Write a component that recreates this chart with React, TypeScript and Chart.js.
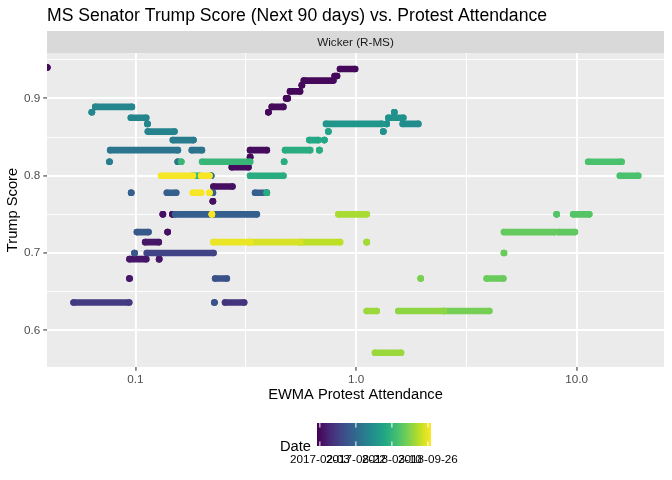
import React, { useEffect, useRef } from "react";
import { Chart, registerables } from "chart.js";

Chart.register(...registerables);

const TITLE = "MS Senator Trump Score (Next 90 days) vs. Protest Attendance";
const FACET_LABEL = "Wicker (R-MS)";
const X_TITLE = "EWMA Protest Attendance";
const Y_TITLE = "Trump Score";
const LEGEND_TITLE = "Date";

const X_MAJOR = [0.1, 1, 10];
const X_MAJOR_LABELS = ["0.1", "1.0", "10.0"];
const X_MINOR = [0.3162, 3.162];
const Y_MAJOR = [0.6, 0.7, 0.8, 0.9];
const Y_MAJOR_LABELS = ["0.6", "0.7", "0.8", "0.9"];
const Y_MINOR = [0.65, 0.75, 0.85, 0.95];
const X_LIMITS = [0.0397, 24.9];
const Y_LIMITS = [0.5525, 0.9587];

const DATE_LIMITS = ["2017-01-18", "2018-10-13"];
const DATE_BREAKS = ["2017-02-03", "2017-08-22", "2018-03-10", "2018-09-26"];

// Each run: a horizontal streak of (densely overlapping) points at one score level
const runStart = [
  0.0398, 0.4005, 0.415, 0.482, 0.502, 0.568, 0.58, 0.8, 0.846,
  0.2257, 0.2243, 0.2734, 0.3309, 0.3309, 0.1331, 0.147, 0.1399, 0.1107, 0.094, 0.128, 0.0939,
  0.0524, 0.2548, 0.228, 0.2297, 0.1126, 0.099, 0.1015, 0.1513, 0.0956, 0.1388, 0.2243, 0.3485,
  0.2203, 0.1801, 0.0768, 0.1556, 0.1477, 0.0762, 0.1138, 0.1133, 0.0953, 0.0657, 0.0634,
  0.7312, 1.329, 1.377, 1.401, 1.491, 1.628,
  0.749, 0.6143, 0.7184, 0.4769, 0.6821, 0.4719, 0.3309, 0.3939, 0.2006, 0.1611, 0.182,
  11.29, 15.71, 9.652, 8.118, 8.254, 4.684, 4.684, 3.91, 1.964, 2.5, 1.555, 1.118, 1.219, 1.118, 0.8313,
  0.5574, 0.3309, 0.2257, 0.222, 0.1307, 0.1985, 0.182, 0.2164,
];
const runEnd = [
  0.0398, 0.4005, 0.468, 0.49, 0.557, 0.568, 0.789, 0.82, 0.99,
  0.2751, 0.2243, 0.3251, 0.3309, 0.3939, 0.1331, 0.147, 0.1399, 0.1275, 0.1118, 0.128, 0.0939,
  0.0936, 0.3108, 0.228, 0.2594, 0.2257, 0.099, 0.1145, 0.3548, 0.0956, 0.1529, 0.2243, 0.3939,
  0.2203, 0.2, 0.1556, 0.1556, 0.1832, 0.0762, 0.1502, 0.1133, 0.1118, 0.0963, 0.0634,
  1.307, 1.329, 1.377, 1.638, 1.491, 1.915,
  0.749, 0.6751, 0.7184, 0.6188, 0.6821, 0.4719, 0.4684, 0.3939, 0.3309, 0.1611, 0.195,
  15.99, 19.02, 11.41, 8.118, 9.824, 7.975, 4.684, 4.65, 1.964, 4.018, 2.5, 1.241, 1.599, 1.118, 1.118,
  0.8462, 0.5574, 0.3309, 0.222, 0.182, 0.2164, 0.1985, 0.2164,
];
const runScore = [
  0.94, 0.882, 0.889, 0.9, 0.909, 0.917, 0.923, 0.929, 0.938,
  0.786, 0.767, 0.811, 0.824, 0.833, 0.75, 0.75, 0.727, 0.714, 0.692, 0.692, 0.667,
  0.636, 0.636, 0.636, 0.667, 0.7, 0.7, 0.727, 0.75, 0.778, 0.778, 0.778, 0.778,
  0.8, 0.833, 0.833, 0.818, 0.846, 0.818, 0.857, 0.867, 0.875, 0.889, 0.882,
  0.867, 0.857, 0.867, 0.875, 0.882, 0.867,
  0.857, 0.846, 0.846, 0.833, 0.833, 0.818, 0.8, 0.778, 0.818, 0.818, 0.8,
  0.818, 0.8, 0.75, 0.75, 0.727, 0.727, 0.7, 0.667, 0.667, 0.625, 0.625, 0.625, 0.571, 0.714, 0.75,
  0.714, 0.714, 0.714, 0.75, 0.8, 0.8, 0.778, 0.778,
];
const runDate = [
  "2017-01-31", "2017-01-31", "2017-01-31", "2017-01-31", "2017-01-31", "2017-01-31", "2017-01-31", "2017-01-31", "2017-01-31",
  "2017-02-12", "2017-02-12", "2017-02-06", "2017-02-06", "2017-02-06", "2017-02-12", "2017-02-12", "2017-02-12", "2017-02-25", "2017-02-25", "2017-02-25", "2017-02-25",
  "2017-05-06", "2017-04-23", "2017-06-25", "2017-06-25", "2017-05-25", "2017-07-14", "2017-07-14", "2017-07-27", "2017-07-27", "2017-07-27", "2017-07-27", "2017-07-27",
  "2017-09-03", "2017-09-16", "2017-09-22", "2017-09-16", "2017-10-05", "2017-10-17", "2017-10-24", "2017-10-30", "2017-10-30", "2017-11-05", "2017-11-05",
  "2017-12-13", "2017-12-01", "2017-12-01", "2017-12-01", "2017-12-01", "2017-11-18",
  "2018-01-20", "2018-02-02", "2018-02-02", "2018-02-14", "2018-02-14", "2018-02-14", "2018-02-14", "2018-02-14", "2018-03-12", "2018-03-12", "2018-03-12",
  "2018-04-12", "2018-04-12", "2018-04-25", "2018-04-25", "2018-05-08", "2018-05-14", "2018-05-20", "2018-05-20", "2018-06-08", "2018-06-02", "2018-06-27", "2018-07-10", "2018-07-10", "2018-07-16", "2018-07-23",
  "2018-08-11", "2018-09-05", "2018-09-24", "2018-10-07", "2018-10-07", "2018-10-07", "2018-10-07", "2018-10-07",
];

const VIRIDIS = [
  "#440154", "#482475", "#414487", "#355F8D", "#2A788E", "#21918C",
  "#22A884", "#44BF70", "#7AD151", "#BDDF26", "#FDE725",
];

const FONT = "'Liberation Sans', Arial, Helvetica, sans-serif";

function hexToRgb(h: string) {
  const n = parseInt(h.slice(1), 16);
  return [(n >> 16) & 255, (n >> 8) & 255, n & 255];
}

function viridis(t: number) {
  const tt = Math.max(0, Math.min(1, t));
  const n = VIRIDIS.length - 1;
  const i = Math.min(Math.floor(tt * n), n - 1);
  const f = tt * n - i;
  const a = hexToRgb(VIRIDIS[i]);
  const b = hexToRgb(VIRIDIS[i + 1]);
  const c = a.map((v, k) => Math.round(v + (b[k] - v) * f));
  return `rgb(${c[0]},${c[1]},${c[2]})`;
}

const dMin = Date.parse(DATE_LIMITS[0]);
const dMax = Date.parse(DATE_LIMITS[1]);
const dateFrac = (d: string) => (Date.parse(d) - dMin) / (dMax - dMin);

const decorPlugin = {
  id: "ggDecor",
  beforeDraw(chart: any) {
    const { ctx, chartArea } = chart;
    const { left, right, top, bottom } = chartArea;
    ctx.save();
    ctx.fillStyle = "#FFFFFF";
    ctx.fillRect(0, 0, chart.width, chart.height);
    // panel
    ctx.fillStyle = "#EBEBEB";
    ctx.fillRect(left, top, right - left, bottom - top);
    // strip
    ctx.fillStyle = "#D9D9D9";
    ctx.fillRect(left, 31, right - left, top - 31);
    ctx.fillStyle = "#1A1A1A";
    ctx.font = `11.7px ${FONT}`;
    ctx.textAlign = "center";
    ctx.textBaseline = "middle";
    ctx.fillText(FACET_LABEL, (left + right) / 2, (31 + top) / 2 + 0.5);
    // title
    ctx.fillStyle = "#000000";
    ctx.font = `17.6px ${FONT}`;
    ctx.textAlign = "left";
    ctx.textBaseline = "alphabetic";
    ctx.fillText(TITLE, left, 21);
    ctx.restore();
  },
  afterDraw(chart: any) {
    const { ctx } = chart;
    const barL = 317, barR = 431, barT = 423, barB = 446;
    ctx.save();
    const g = ctx.createLinearGradient(barL, 0, barR, 0);
    VIRIDIS.forEach((c, i) => g.addColorStop(i / (VIRIDIS.length - 1), c));
    ctx.fillStyle = g;
    ctx.fillRect(barL, barT, barR - barL, barB - barT);
    const tl = (barB - barT) / 5;
    ctx.strokeStyle = "#FFFFFF";
    ctx.lineWidth = 1;
    ctx.fillStyle = "#000000";
    ctx.font = `11.7px ${FONT}`;
    ctx.textAlign = "center";
    ctx.textBaseline = "alphabetic";
    DATE_BREAKS.forEach((d) => {
      const x = barL + dateFrac(d) * (barR - barL);
      ctx.beginPath();
      ctx.moveTo(x, barT);
      ctx.lineTo(x, barT + tl);
      ctx.moveTo(x, barB - tl);
      ctx.lineTo(x, barB);
      ctx.stroke();
      ctx.fillText(d, x, 463);
    });
    ctx.font = `14.7px ${FONT}`;
    ctx.textAlign = "left";
    ctx.fillText(LEGEND_TITLE, 280, 451);
    ctx.restore();
  },
};

export default function App() {
  const ref = useRef<HTMLCanvasElement | null>(null);

  useEffect(() => {
    document.body.style.margin = "0";
    if (!ref.current) return;

    const order = runDate
      .map((_, i) => i)
      .sort((a, b) => Date.parse(runDate[a]) - Date.parse(runDate[b]));

    const datasets = order.map((i, rank) => {
      const c = viridis(dateFrac(runDate[i]));
      return {
        data: [
          { x: runStart[i], y: runScore[i] },
          { x: runEnd[i], y: runScore[i] },
        ],
        showLine: true,
        borderColor: c,
        backgroundColor: c,
        pointBackgroundColor: c,
        pointBorderColor: c,
        borderWidth: 6.6,
        borderCapStyle: "round",
        pointRadius: 3.3,
        pointBorderWidth: 0,
        pointHoverRadius: 3.3,
        clip: 0,
        order: -rank,
      };
    });

    const xTicks = [...X_MAJOR, ...X_MINOR].sort((a, b) => a - b);
    const yTicks = [...Y_MAJOR, ...Y_MINOR].sort((a, b) => a - b);
    const isMajorX = (v: number) => X_MAJOR.some((m) => Math.abs(m - v) < 1e-9);
    const isMajorY = (v: number) => Y_MAJOR.some((m) => Math.abs(m - v) < 1e-9);

    const chart = new Chart(ref.current, {
      type: "scatter",
      data: { datasets: datasets as any },
      plugins: [decorPlugin],
      options: {
        animation: false,
        responsive: false,
        events: [],
        layout: { padding: { top: 53, right: 8, bottom: 0, left: 0 } },
        plugins: {
          legend: { display: false },
          tooltip: { enabled: false },
          title: { display: false },
        },
        scales: {
          x: {
            type: "logarithmic",
            min: X_LIMITS[0],
            max: X_LIMITS[1],
            bounds: "data",
            afterBuildTicks: (s: any) => {
              s.ticks = xTicks.map((v) => ({ value: v, major: isMajorX(v) }));
            },
            afterFit: (s: any) => {
              s.height = 113;
            },
            ticks: {
              autoSkip: false,
              maxRotation: 0,
              minRotation: 0,
              padding: 2,
              color: "#4D4D4D",
              font: { family: FONT, size: 11.7 },
              callback: function (this: any, _v: any, index: number, ticks: any[]) {
                const v = ticks[index].value;
                const k = X_MAJOR.findIndex((m) => Math.abs(m - v) < 1e-9);
                return k >= 0 ? X_MAJOR_LABELS[k] : "";
              },
            },
            grid: {
              color: "#FFFFFF",
              lineWidth: (c: any) => (c.tick && isMajorX(c.tick.value) ? 1.9 : 0.95),
              tickColor: (c: any) => (c.tick && isMajorX(c.tick.value) ? "#333333" : "rgba(0,0,0,0)"),
              tickLength: 3.7,
              tickWidth: 1.07,
            },
            border: { display: false },
            title: {
              display: true,
              text: X_TITLE,
              color: "#000000",
              font: { family: FONT, size: 14.7 },
              padding: { top: 0, bottom: 76 },
            },
          },
          y: {
            type: "linear",
            min: Y_LIMITS[0],
            max: Y_LIMITS[1],
            bounds: "data",
            afterBuildTicks: (s: any) => {
              s.ticks = yTicks.map((v) => ({ value: v, major: isMajorY(v) }));
            },
            afterFit: (s: any) => {
              s.width = 47;
            },
            ticks: {
              autoSkip: false,
              padding: 3,
              color: "#4D4D4D",
              font: { family: FONT, size: 11.7 },
              callback: function (this: any, _v: any, index: number, ticks: any[]) {
                const v = ticks[index].value;
                const k = Y_MAJOR.findIndex((m) => Math.abs(m - v) < 1e-9);
                return k >= 0 ? Y_MAJOR_LABELS[k] : "";
              },
            },
            grid: {
              color: "#FFFFFF",
              lineWidth: (c: any) => (c.tick && isMajorY(c.tick.value) ? 1.9 : 0.95),
              tickColor: (c: any) => (c.tick && isMajorY(c.tick.value) ? "#333333" : "rgba(0,0,0,0)"),
              tickLength: 3.7,
              tickWidth: 1.07,
            },
            border: { display: false },
            title: {
              display: true,
              text: Y_TITLE,
              color: "#000000",
              font: { family: FONT, size: 14.7 },
              padding: { top: 4, bottom: 0 },
            },
          },
        },
      } as any,
    });

    return () => chart.destroy();
  }, []);

  return (
    <div style={{ width: 672, height: 480 }}>
      <canvas ref={ref} width={672} height={480} style={{ display: "block", width: 672, height: 480 }} />
    </div>
  );
}
